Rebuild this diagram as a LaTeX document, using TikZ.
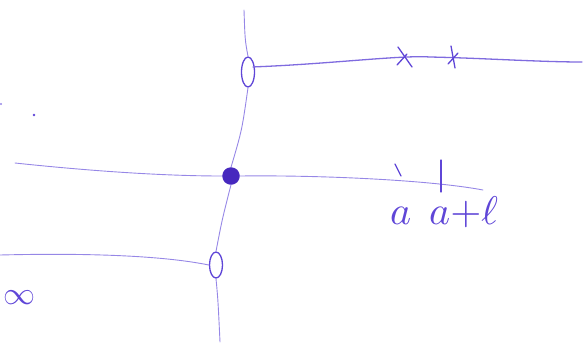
\documentclass[tikz,border=0pt]{standalone}
\usepackage{graphicx}
\usetikzlibrary{shapes.geometric}
\definecolor{pen}{RGB}{95,70,215}
\definecolor{penlight}{RGB}{150,135,230}
\definecolor{pendark}{RGB}{70,40,190}
\tikzset{
  thin line/.style={draw=penlight, line width=0.9pt, line cap=round},
  ink/.style={draw=pen, line width=1.3pt, line cap=round},
  ring/.style={ellipse, draw=pen, line width=1.3pt, minimum width=13pt, inner sep=0pt},
  blob/.style={circle, fill=pendark, draw=pendark, minimum size=17pt, inner sep=0pt},
  hand/.style={text=pen, inner sep=0pt},
}
\begin{document}
\begin{tikzpicture}[x=1pt,y=-1pt]
\useasboundingbox (0,0) rectangle (585,346);
% vertical line nodes
\coordinate (vtop) at (244,10);
\node[ring, minimum height=30pt] (e1) at (248,72) {};
\node[blob] (d) at (231,176) {};
\node[ring, minimum height=26pt] (e2) at (216,265) {};
\coordinate (vbot) at (220,342);
\draw[thin line] (vtop) .. controls (245,40) .. (e1.north);
\draw[thin line] (e1.south) .. controls (242,130) .. (d.north);
\draw[thin line] (d.south) .. controls (222,220) .. (e2.north);
\draw[thin line] (e2.south) .. controls (218,300) .. (vbot);
% top horizontal line
\coordinate (tr) at (582,62);
\draw[ink, draw=pen!80] (e1.north east) ++(0,6) .. controls (330,64) and (400,55) .. (430,57) .. controls (480,58) and (540,62) .. (tr);
% crosses
\coordinate (c1) at (405,57);
\coordinate (c2) at (453,57);
\draw[ink] (c1) ++(-7,-10) -- ++(14,20);
\draw[ink] (c1) ++(-8,8) -- ++(10,-11);
\draw[ink] (c2) ++(-2,-11) -- ++(4,22);
\draw[ink] (c2) ++(-5,7) -- ++(10,-11);
% middle line
\coordinate (ml) at (15,163);
\coordinate (mr) at (483,190);
\draw[thin line] (ml) .. controls (100,172) and (170,176) .. (d.west);
\draw[thin line] (d.east) .. controls (320,175) and (430,180) .. (mr);
% ticks
\coordinate (t1) at (398,170);
\coordinate (t2) at (441,177);
\draw[ink] (t1) ++(-3,-6) -- ++(6,12);
\draw[ink] (t2) ++(0,-17) -- ++(0,32);
% labels
\node[hand, anchor=west] (lab) at (390,212) {\scalebox{4}{$a\;\, a{+}\ell$}};
% lower line
\coordinate (ll) at (0,255);
\draw[thin line] (ll) .. controls (80,253) and (160,255) .. (e2.west);
% infinity symbol
\node[hand] (inf) at (20,298) {\scalebox{3.2}{$\infty$}};
% small marks
\coordinate (m1) at (34,115);
\fill[pen] (m1) circle (1.4pt);
\coordinate (m2) at (1,104);
\fill[penlight] (m2) circle (1.2pt);
\end{tikzpicture}
\end{document}
